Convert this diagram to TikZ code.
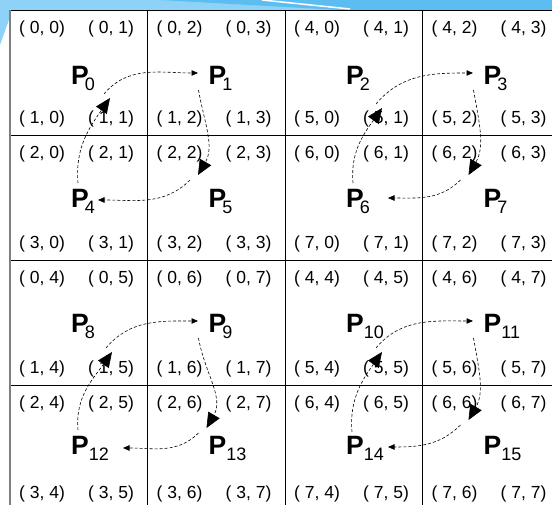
\documentclass[tikz,border=0pt]{standalone}
\usepackage{fontspec}
\setmainfont{Liberation Sans}
\usepackage{xcolor}
\usetikzlibrary{arrows.meta}
\definecolor{swooshlight}{HTML}{8ED2F8}
\definecolor{swooshdark}{HTML}{5CBDF0}
\newcommand{\pidx}[2][0pt]{\textbf{P}\kern#1\raisebox{-6pt}{\fontsize{18}{18}\selectfont\mdseries #2}}

\begin{document}
\begin{tikzpicture}[x=1pt, y=1pt,
    idx/.style={font=\fontsize{17.5}{18}\selectfont, anchor=base, inner sep=0pt},
    proc/.style={font=\fontsize{26.5}{27}\selectfont\bfseries, anchor=base west, inner sep=0pt},
    flow/.style={densely dashed, line width=0.6pt, -{Triangle[length=6.5pt,width=5.5pt]}},
    turn/.style={densely dashed, line width=0.6pt, -{Triangle[length=15pt,width=13pt]}},
    cellline/.style={line width=0.8pt}]
    \useasboundingbox (0,0) rectangle (552,505);

    % Slide swoosh
    \fill[swooshlight] (0,505) -- (552,505) -- (552,495) -- (10,495) -- (10,488) -- (0,460) -- cycle;
    \fill[swooshdark] (160,505) -- (552,505) -- (552,495) -- (340,495) -- cycle;
    \draw[white, line width=1.5pt] (262,505) -- (350,496);

    % Table lines
    \draw[cellline] (10,495) -- (552,495);
    \draw[cellline] (10,370) -- (552,370);
    \draw[cellline] (10,245) -- (552,245);
    \draw[cellline] (10,120) -- (552,120);
    \draw[cellline] (147.5,495) -- (147.5,0);
    \draw[cellline] (285,495) -- (285,0);
    \draw[cellline] (422.5,495) -- (422.5,0);
    \draw[gray, line width=1.5pt] (10,495) -- (10,0);

    % Row 0: P0 .. P3
    \node[idx] (s00) at (42,471) {( 0, 0)}; \node[idx] (s01) at (111,471) {( 0, 1)};
    \node[idx] (s10) at (42,381) {( 1, 0)}; \node[idx] (s11) at (111,381) {( 1, 1)};
    \node[idx] (s02) at (179.5,471) {( 0, 2)}; \node[idx] (s03) at (248.5,471) {( 0, 3)};
    \node[idx] (s12) at (179.5,381) {( 1, 2)}; \node[idx] (s13) at (248.5,381) {( 1, 3)};
    \node[idx] (s40) at (317,471) {( 4, 0)}; \node[idx] (s41) at (386,471) {( 4, 1)};
    \node[idx] (s50) at (317,381) {( 5, 0)}; \node[idx] (s51) at (386,381) {( 5, 1)};
    \node[idx] (s42) at (454.5,471) {( 4, 2)}; \node[idx] (s43) at (523.5,471) {( 4, 3)};
    \node[idx] (s52) at (454.5,381) {( 5, 2)}; \node[idx] (s53) at (523.5,381) {( 5, 3)};

    % Row 1: P4 .. P7
    \node[idx] (s20) at (42,346) {( 2, 0)}; \node[idx] (s21) at (111,346) {( 2, 1)};
    \node[idx] (s30) at (42,256) {( 3, 0)}; \node[idx] (s31) at (111,256) {( 3, 1)};
    \node[idx] (s22) at (179.5,346) {( 2, 2)}; \node[idx] (s23) at (248.5,346) {( 2, 3)};
    \node[idx] (s32) at (179.5,256) {( 3, 2)}; \node[idx] (s33) at (248.5,256) {( 3, 3)};
    \node[idx] (s60) at (317,346) {( 6, 0)}; \node[idx] (s61) at (386,346) {( 6, 1)};
    \node[idx] (s70) at (317,256) {( 7, 0)}; \node[idx] (s71) at (386,256) {( 7, 1)};
    \node[idx] (s62) at (454.5,346) {( 6, 2)}; \node[idx] (s63) at (523.5,346) {( 6, 3)};
    \node[idx] (s72) at (454.5,256) {( 7, 2)}; \node[idx] (s73) at (523.5,256) {( 7, 3)};

    % Row 2: P8 .. P11
    \node[idx] (s04) at (42,221) {( 0, 4)}; \node[idx] (s05) at (111,221) {( 0, 5)};
    \node[idx] (s14) at (42,131) {( 1, 4)}; \node[idx] (s15) at (111,131) {( 1, 5)};
    \node[idx] (s06) at (179.5,221) {( 0, 6)}; \node[idx] (s07) at (248.5,221) {( 0, 7)};
    \node[idx] (s16) at (179.5,131) {( 1, 6)}; \node[idx] (s17) at (248.5,131) {( 1, 7)};
    \node[idx] (s44) at (317,221) {( 4, 4)}; \node[idx] (s45) at (386,221) {( 4, 5)};
    \node[idx] (s54) at (317,131) {( 5, 4)}; \node[idx] (s55) at (386,131) {( 5, 5)};
    \node[idx] (s46) at (454.5,221) {( 4, 6)}; \node[idx] (s47) at (523.5,221) {( 4, 7)};
    \node[idx] (s56) at (454.5,131) {( 5, 6)}; \node[idx] (s57) at (523.5,131) {( 5, 7)};

    % Row 3: P12 .. P15
    \node[idx] (s24) at (42,96) {( 2, 4)}; \node[idx] (s25) at (111,96) {( 2, 5)};
    \node[idx] (s34) at (42,6) {( 3, 4)}; \node[idx] (s35) at (111,6) {( 3, 5)};
    \node[idx] (s26) at (179.5,96) {( 2, 6)}; \node[idx] (s27) at (248.5,96) {( 2, 7)};
    \node[idx] (s36) at (179.5,6) {( 3, 6)}; \node[idx] (s37) at (248.5,6) {( 3, 7)};
    \node[idx] (s64) at (317,96) {( 6, 4)}; \node[idx] (s65) at (386,96) {( 6, 5)};
    \node[idx] (s74) at (317,6) {( 7, 4)}; \node[idx] (s75) at (386,6) {( 7, 5)};
    \node[idx] (s66) at (454.5,96) {( 6, 6)}; \node[idx] (s67) at (523.5,96) {( 6, 7)};
    \node[idx] (s76) at (454.5,6) {( 7, 6)}; \node[idx] (s77) at (523.5,6) {( 7, 7)};

    % Processes
    \node[proc] (P0) at (71,420) {\pidx[-4pt]{0}};
    \node[proc] (P1) at (208.5,420) {\pidx[-4pt]{1}};
    \node[proc] (P2) at (346,420) {\pidx[-4pt]{2}};
    \node[proc] (P3) at (483.5,420) {\pidx[-4pt]{3}};
    \node[proc] (P4) at (71,297) {\pidx[-4pt]{4}};
    \node[proc] (P5) at (208.5,297) {\pidx[-4pt]{5}};
    \node[proc] (P6) at (346,297) {\pidx[-4pt]{6}};
    \node[proc] (P7) at (483.5,297) {\pidx[-4pt]{7}};
    \node[proc] (P8) at (71,172) {\pidx[-4pt]{8}};
    \node[proc] (P9) at (208.5,172) {\pidx[-4pt]{9}};
    \node[proc] (P10) at (346,172) {\pidx{10}};
    \node[proc] (P11) at (483.5,172) {\pidx{11}};
    \node[proc] (P12) at (71,50) {\pidx{12}};
    \node[proc] (P13) at (208.5,50) {\pidx{13}};
    \node[proc] (P14) at (346,50) {\pidx{14}};
    \node[proc] (P15) at (483.5,50) {\pidx{15}};

    % Ring P0 P1 P5 P4
    \draw[turn] ([shift={(7,25)}]P4.base west) to[out=95,in=235] ([shift={(39,-13)}]P0.base west);
    \draw[flow] ([shift={(33,-9)}]P0.base west) to[out=50,in=180] ([shift={(-10.5,12)}]P1.base west);
    \draw[turn] ([shift={(-10,-5)}]P1.base west) to[out=-80,in=60] ([shift={(-10.5,33)}]P5.base west);
    \draw[flow] ([shift={(-18.5,28)}]P5.base west) to[out=225,in=0] ([shift={(27,8)}]P4.base west);

    % Ring P2 P3 P7 P6
    \draw[turn] ([shift={(7,25)}]P6.base west) to[out=95,in=235] ([shift={(36,-23)}]P2.base west);
    \draw[flow] ([shift={(30,-19)}]P2.base west) to[out=50,in=180] ([shift={(-10.5,12)}]P3.base west);
    \draw[turn] ([shift={(-10,-5)}]P3.base west) to[out=-80,in=60] ([shift={(-15,33)}]P7.base west);
    \draw[flow] ([shift={(-23,28)}]P7.base west) to[out=225,in=0] ([shift={(42,10)}]P6.base west);

    % Ring P8 P9 P13 P12
    \draw[turn] ([shift={(7,25)}]P12.base west) to[out=95,in=235] ([shift={(41,-19)}]P8.base west);
    \draw[flow] ([shift={(35,-15)}]P8.base west) to[out=50,in=180] ([shift={(-10.5,12)}]P9.base west);
    \draw[turn] ([shift={(-10,-5)}]P9.base west) to[out=-80,in=60] ([shift={(-2,27)}]P13.base west);
    \draw[flow] ([shift={(-10,22)}]P13.base west) to[out=225,in=0] ([shift={(52,7)}]P12.base west);

    % Ring P10 P11 P15 P14
    \draw[turn] ([shift={(6,23)}]P14.base west) to[out=95,in=235] ([shift={(36,-19)}]P10.base west);
    \draw[flow] ([shift={(30,-15)}]P10.base west) to[out=50,in=180] ([shift={(-10.5,12)}]P11.base west);
    \draw[turn] ([shift={(-10,-5)}]P11.base west) to[out=-80,in=60] ([shift={(-15,35)}]P15.base west);
    \draw[flow] ([shift={(-23,30)}]P15.base west) to[out=225,in=0] ([shift={(42,8)}]P14.base west);
\end{tikzpicture}
\end{document}
